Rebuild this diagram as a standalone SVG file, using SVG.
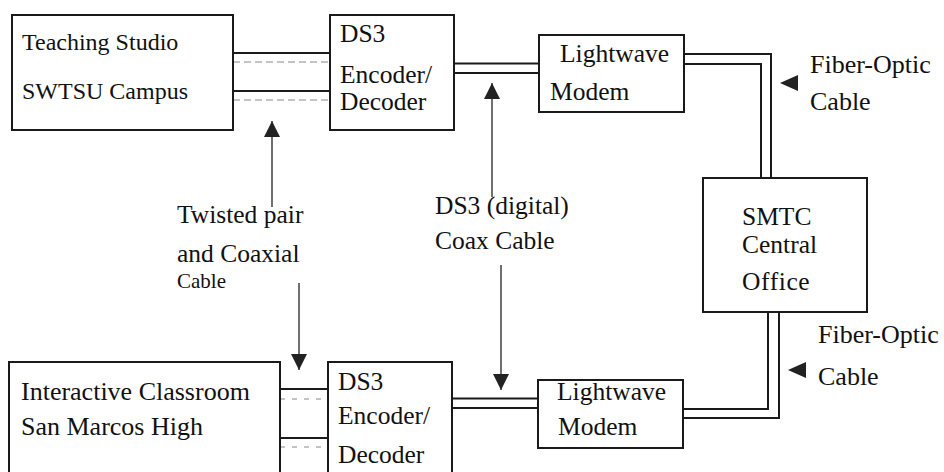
<svg xmlns="http://www.w3.org/2000/svg" width="944" height="472" viewBox="0 0 944 472">
  <style>
    text { font-family: "Liberation Serif", "Times New Roman", serif; font-size: 25.5px; fill: #111; }
    .box { fill: #fff; stroke: #1a1a1a; stroke-width: 2; }
    .wire { fill: none; stroke: #1a1a1a; stroke-width: 2; }
    .dash { fill: none; stroke: #888; stroke-width: 1; }
    .pointer { fill: none; stroke: #222; stroke-width: 1.3; }
    .head { fill: #222; }
  </style>
  <defs>
    <marker id="tip" markerUnits="userSpaceOnUse" markerWidth="16" markerHeight="16" refX="16" refY="8" orient="auto">
      <path d="M0,0 L16,8 L0,16 z" fill="#222"/>
    </marker>
  </defs>
  <rect width="944" height="472" fill="#fff"/>

  <g id="connectors">
    <!-- twisted pair / coax between studio and codec -->
    <line class="wire" x1="233" y1="53" x2="330" y2="53"/>
    <line class="wire" x1="233" y1="91" x2="330" y2="91"/>
    <line class="dash" x1="233" y1="62" x2="330" y2="62" stroke-dasharray="7 4"/>
    <line class="dash" x1="233" y1="100" x2="330" y2="100" stroke-dasharray="7 4"/>
    <!-- twisted pair / coax between classroom and codec -->
    <line class="wire" x1="280" y1="389" x2="328" y2="389"/>
    <line class="wire" x1="280" y1="438" x2="328" y2="438"/>
    <line class="dash" x1="280" y1="399" x2="328" y2="399" stroke-dasharray="5 7"/>
    <line class="dash" x1="280" y1="447" x2="328" y2="447" stroke-dasharray="5 7"/>
    <!-- DS3 coax, codec to modem -->
    <line class="wire" x1="454" y1="63.5" x2="539" y2="63.5"/>
    <line class="wire" x1="454" y1="73" x2="539" y2="73"/>
    <line class="wire" x1="452" y1="398.5" x2="538" y2="398.5"/>
    <line class="wire" x1="452" y1="408" x2="538" y2="408"/>
    <!-- fiber pairs to the central office -->
    <path class="wire" d="M684,54 H771 V178"/>
    <path class="wire" d="M684,64 H761 V178"/>
    <path class="wire" d="M768,312 V409 H683"/>
    <path class="wire" d="M779,312 V418 H683"/>
    <!-- label pointers -->
    <line class="pointer" x1="272" y1="207" x2="272" y2="121" marker-end="url(#tip)"/>
    <line class="pointer" x1="299" y1="283" x2="299" y2="370" marker-end="url(#tip)"/>
    <line class="pointer" x1="492" y1="197" x2="492" y2="83" marker-end="url(#tip)"/>
    <line class="pointer" x1="501" y1="265" x2="501" y2="390" marker-end="url(#tip)"/>
    <polygon class="head" points="780,83 798,75 798,91"/>
    <polygon class="head" points="788,370 806,362 806,378"/>
  </g>

  <g id="studio">
    <rect class="box" x="12" y="15" width="221" height="115"/>
    <text x="22" y="50" style="font-size:24px">Teaching Studio</text>
    <text x="22" y="99" style="font-size:24px">SWTSU Campus</text>
  </g>

  <g id="codec-top">
    <rect class="box" x="330" y="15" width="124" height="115"/>
    <text x="340" y="42">DS3</text>
    <text x="340" y="83">Encoder/</text>
    <text x="340" y="110">Decoder</text>
  </g>

  <g id="modem-top">
    <rect class="box" x="539" y="35" width="145" height="77"/>
    <text x="560" y="62">Lightwave</text>
    <text x="550" y="100">Modem</text>
  </g>

  <g id="central-office">
    <rect class="box" x="703" y="178" width="164" height="134"/>
    <text x="742" y="225">SMTC</text>
    <text x="742" y="253">Central</text>
    <text x="742" y="290" letter-spacing="0.6">Office</text>
  </g>

  <g id="classroom">
    <rect class="box" x="9" y="362" width="271" height="130"/>
    <text x="21" y="400" style="font-size:26px">Interactive Classroom</text>
    <text x="21" y="435" style="font-size:26px">San Marcos High</text>
  </g>

  <g id="codec-bottom">
    <rect class="box" x="328" y="362" width="124" height="130"/>
    <text x="338" y="390">DS3</text>
    <text x="338" y="424">Encoder/</text>
    <text x="338" y="463">Decoder</text>
  </g>

  <g id="modem-bottom">
    <rect class="box" x="538" y="380" width="145" height="68"/>
    <text x="557" y="400">Lightwave</text>
    <text x="558" y="435">Modem</text>
  </g>

  <g id="labels">
    <text x="177" y="223">Twisted pair</text>
    <text x="177" y="262">and Coaxial</text>
    <text x="177" y="288" style="font-size:21px">Cable</text>
    <text x="435" y="214">DS3 (digital)</text>
    <text x="435" y="249">Coax Cable</text>
    <text x="810" y="73" style="font-size:26px">Fiber-Optic</text>
    <text x="810" y="110" style="font-size:26px">Cable</text>
    <text x="818" y="343" style="font-size:26px">Fiber-Optic</text>
    <text x="818" y="385" style="font-size:26px">Cable</text>
  </g>
</svg>
